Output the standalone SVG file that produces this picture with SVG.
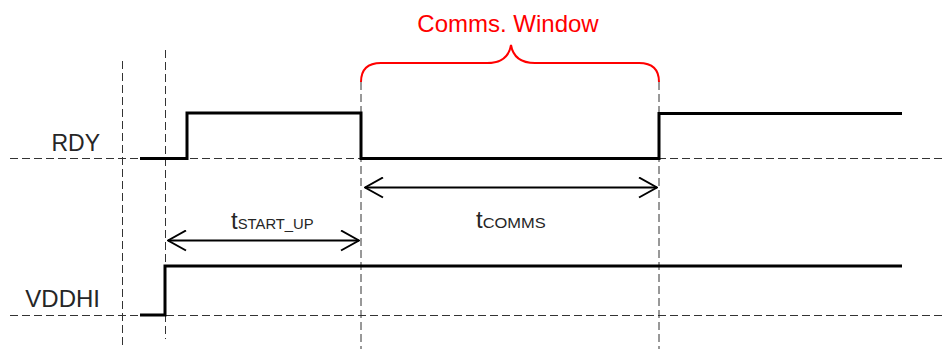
<svg xmlns="http://www.w3.org/2000/svg" width="949" height="349" viewBox="0 0 949 349">
<style>
.grid{stroke:#333;stroke-width:1;stroke-dasharray:8 4;fill:none}
.sig{stroke:#000;stroke-width:3;fill:none;stroke-linejoin:miter;stroke-linecap:butt}
.arr{stroke:#000;stroke-width:2;fill:none}
.lbl{font-family:"Liberation Sans",Arial,sans-serif;fill:#262626}
.red{stroke:#f00;stroke-width:2;fill:none}
</style>
<defs>
<marker id="chev" viewBox="0 0 20 22" refX="19" refY="11" markerWidth="20" markerHeight="22" markerUnits="userSpaceOnUse" orient="auto-start-reverse">
<path d="M1,1 L19,11 L1,21" fill="none" stroke="#000" stroke-width="2"/>
</marker>
</defs>
<g id="gridlines">
<line class="grid" x1="10" y1="158.5" x2="946" y2="158.5"/>
<line class="grid" x1="10" y1="315.5" x2="946" y2="315.5"/>
<line class="grid" x1="122.5" y1="61" x2="122.5" y2="349"/>
<line class="grid" x1="165.5" y1="50" x2="165.5" y2="339"/>
<line class="grid" x1="361" y1="82" x2="361" y2="349"/>
<line class="grid" x1="659" y1="82" x2="659" y2="349"/>
</g>
<g id="rdy">
<polyline class="sig" points="140,158.5 187,158.5 187,113 361,113 361,158.5 659,158.5 659,113.5 902,113.5"/>
<text class="lbl" x="100" y="151" font-size="23" text-anchor="end">RDY</text>
</g>
<g id="vddhi">
<polyline class="sig" points="140,315 165,315 165,266 902,266"/>
<text class="lbl" x="100" y="307" font-size="24" text-anchor="end">VDDHI</text>
</g>
<g id="comms-window">
<path class="red" d="M361,82 Q361,63 381,63 L487,63 Q508,63 511,45 Q514,63 535,63 L639,63 Q659,63 659,82"/>
<text x="508" y="32" font-size="24" text-anchor="middle" font-family="Liberation Sans,Arial,sans-serif" fill="#f00">Comms. Window</text>
</g>
<g id="connectors">
<line class="arr" x1="168" y1="240.5" x2="359" y2="240.5" marker-start="url(#chev)" marker-end="url(#chev)"/>
<line class="arr" x1="365" y1="187.5" x2="657" y2="187.5" marker-start="url(#chev)" marker-end="url(#chev)"/>
</g>
<g id="t-startup">
<text class="lbl" x="231" y="229" font-size="24">t<tspan font-size="15" textLength="76" lengthAdjust="spacingAndGlyphs">START_UP</tspan></text>
</g>
<g id="t-comms">
<text class="lbl" x="476" y="228" font-size="24">t<tspan font-size="15" textLength="63" lengthAdjust="spacingAndGlyphs">COMMS</tspan></text>
</g>
</svg>
